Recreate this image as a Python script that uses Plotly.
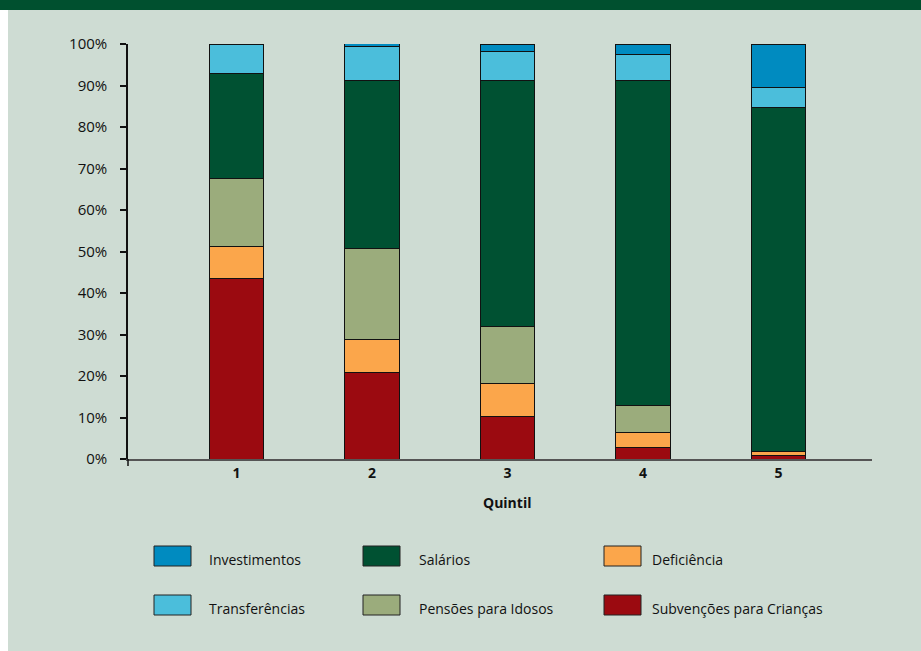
import plotly.graph_objects as go

quintiles = [1, 2, 3, 4, 5]
tick_labels = ["1", "2", "3", "4", "5"]

# values in % (bottom to top stacking order)
subvencoes = [43.6, 20.9, 10.2, 2.8, 0.9]
deficiencia = [7.5, 7.8, 8.0, 3.7, 1.0]
pensoes = [16.4, 22.1, 13.8, 6.4, 0.0]
salarios = [25.5, 40.5, 59.1, 78.4, 82.9]
transferencias = [7.0, 8.0, 7.1, 6.2, 4.8]
investimentos = [0.0, 0.8, 1.8, 2.5, 10.4]

series_names = ["Subvenções para Crianças", "Deficiência", "Pensões para Idosos",
                "Salários", "Transferências", "Investimentos"]
series_values = [subvencoes, deficiencia, pensoes, salarios, transferencias, investimentos]
series_colors = ["#9B0A10", "#FBA64B", "#9BAC7C", "#005132", "#4BBEDB", "#008BC0"]

legend_order = ["Investimentos", "Salários", "Deficiência",
                "Transferências", "Pensões para Idosos", "Subvenções para Crianças"]

FONT = "Liberation Sans Narrow, Arial Narrow, Open Sans, sans-serif"
BG = "#CEDCD3"

fig = go.Figure()
for name, vals, col in zip(series_names, series_values, series_colors):
    fig.add_trace(go.Bar(
        x=quintiles, y=vals, name=name, width=0.4,
        marker=dict(color=col, line=dict(color="#111111", width=1)),
        showlegend=False,
    ))

W, H = 921, 651
L, R, T, B = 128, 49, 44, 192
pw, ph = W - L - R, H - T - B

def px(xp):
    return (xp - L) / pw

def py(yp):
    return (H - B - yp) / ph

shapes = []
annotations = []
# top dark band
shapes.append(dict(type="rect", xref="paper", yref="paper", x0=px(0), x1=px(W), y0=py(10), y1=py(0),
                   fillcolor="#00502F", line=dict(width=0), layer="below"))
# left white strip
shapes.append(dict(type="rect", xref="paper", yref="paper", x0=px(0), x1=px(8), y0=py(H), y1=py(10),
                   fillcolor="#FFFFFF", line=dict(width=0), layer="below"))
# small extension of y-axis below zero
shapes.append(dict(type="line", xref="paper", yref="paper", x0=0, x1=0, y0=py(459), y1=py(466),
                   line=dict(color="#111111", width=1.5)))

# custom legend
col_sw = [154, 363, 604]
col_tx = [207, 417, 650]
row_y = [556, 605]
color_of = dict(zip(series_names, series_colors))
for i, nm in enumerate(legend_order):
    r, c = divmod(i, 3)
    shapes.append(dict(type="rect", xref="paper", yref="paper",
                       x0=px(col_sw[c]), x1=px(col_sw[c] + 37),
                       y0=py(row_y[r] + 10), y1=py(row_y[r] - 10),
                       fillcolor=color_of[nm], line=dict(color="#222222", width=1)))
    annotations.append(dict(xref="paper", yref="paper", x=px(col_tx[c]), y=py(row_y[r] + 3),
                            text=nm, showarrow=False, xanchor="left", yanchor="middle",
                            font=dict(family=FONT, size=14, color="#111111")))

annotations.append(dict(xref="x", yref="paper", x=3, y=py(502), text="<b>Quintil</b>",
                        showarrow=False, xanchor="center", yanchor="middle",
                        font=dict(family=FONT, size=14, color="#111111")))

fig.update_layout(
    width=W, height=H, barmode="stack",
    margin=dict(l=L, r=R, t=T, b=B),
    paper_bgcolor=BG, plot_bgcolor=BG,
    font=dict(family=FONT, size=15, color="#111111"),
    shapes=shapes, annotations=annotations,
    xaxis=dict(range=[0.2, 5.69], tickmode="array", tickvals=quintiles,
               ticktext=["<b>%s</b>" % t for t in tick_labels],
               tickfont=dict(family=FONT, size=14), showgrid=False, zeroline=False,
               showline=True, linecolor="#555555", linewidth=2, ticks=""),
    yaxis=dict(range=[0, 100], tickvals=list(range(0, 101, 10)),
               ticktext=["%d%%" % v for v in range(0, 101, 10)],
               showgrid=False, zeroline=False, showline=True, linecolor="#111111",
               linewidth=1.5, ticks="outside", ticklen=6, tickcolor="#111111",
               tickwidth=1.5, ticklabelstandoff=10, tickfont=dict(family=FONT, size=15)),
)

fig.write_html("out.html")
